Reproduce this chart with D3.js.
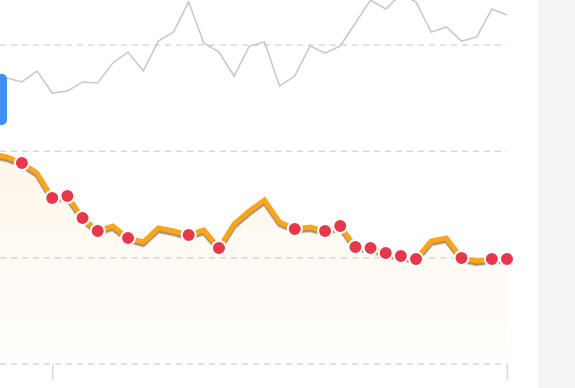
<!DOCTYPE html>
<html lang="en">
<head>
  <meta charset="UTF-8">
  <title>Trend chart</title>
  <style>
    body, html { margin: 0; padding: 0; background: #fff; }
    svg { display: block; }
  </style>
</head>
<body>
  <svg id="svg" width="575" height="388"></svg>

  <script src="https://d3js.org/d3.v7.min.js"></script>
  <script>
    // ----- DATA -----
    const days = d3.range(1, 36)

    // main (orange) series
    const mainValues = [197.5, 194.7, 189.0, 179.6, 156.1, 158.0, 137.3, 125.1, 129.8, 118.5,
                        114.7, 127.9, 125.1, 121.3, 126.0, 109.1, 131.7, 143.9, 154.2, 133.5,
                        127.0, 128.8, 125.1, 129.8, 110.0, 109.1, 104.4, 101.6, 98.7, 115.7,
                        118.5, 99.7, 96.9, 98.7, 98.7]

    // comparison (gray) series
    const compareValues = [272.7, 269.0, 265.2, 275.5, 254.8, 256.7, 265.2, 264.3, 283.1, 293.4,
                           275.5, 303.7, 312.2, 340.4, 301.9, 293.4, 270.8, 299.0, 302.8, 261.4,
                           270.8, 299.0, 292.5, 299.0, 320.7, 342.3, 333.8, 347.9, 340.4, 312.2,
                           316.9, 303.7, 307.5, 333.8, 328.2]

    // days that are marked with a dot
    const markedDays = [3, 5, 6, 7, 8, 10, 14, 16, 21, 23, 24, 25, 26, 27, 28, 29, 32, 34, 35]

    const yTicks = [0, 100, 200, 300]
    const xTicks = [5, 35]

    // ----- CONSTANTS -----
    const plot = {left: -8.4, right: 507, top: 45, bottom: 364}
    const orange = '#fba41b'
    const red = '#e5384a'

    const svg = d3.select('#svg')

    // side panel
    svg.append('rect')
      .attr('x', 538).attr('y', 0)
      .attr('width', 37).attr('height', 388)
      .attr('fill', '#f4f4f4')

    // ----- SCALES -----
    const xScale = d3.scalePoint()
      .domain(days)
      .range([plot.left, plot.right])

    const yScale = d3.scaleLinear()
      .domain([0, 300])
      .range([plot.bottom, plot.top])

    // ----- DEFS -----
    const defs = svg.append('defs')
    const grad = defs.append('linearGradient')
      .attr('id', 'areaGrad')
      .attr('x1', 0).attr('y1', 0).attr('x2', 0).attr('y2', 1)
    grad.append('stop').attr('offset', '0%').attr('stop-color', orange).attr('stop-opacity', 0.09)
    grad.append('stop').attr('offset', '100%').attr('stop-color', orange).attr('stop-opacity', 0.015)

    const shadow = defs.append('filter')
      .attr('id', 'lineShadow')
      .attr('x', '-5%').attr('y', '-20%').attr('width', '110%').attr('height', '140%')
    shadow.append('feDropShadow')
      .attr('dx', 0).attr('dy', 2.4)
      .attr('stdDeviation', 0.7)
      .attr('flood-color', '#8a6740')
      .attr('flood-opacity', 0.75)

    // ----- GRID -----
    const grid = svg.append('g')
    grid.selectAll('line')
      .data(yTicks)
      .enter()
      .append('line')
      .attr('x1', 0).attr('x2', plot.right)
      .attr('y1', d => yScale(d)).attr('y2', d => yScale(d))
      .attr('stroke', '#d9d9d9')
      .attr('stroke-width', 1.5)
      .attr('stroke-dasharray', '6,5')

    // ----- AREA -----
    const area = d3.area()
      .x((d, i) => xScale(days[i]))
      .y0(yScale(0))
      .y1(d => yScale(d))

    svg.append('path')
      .datum(mainValues)
      .attr('d', area)
      .attr('fill', 'url(#areaGrad)')

    // ----- LINES -----
    const line = d3.line()
      .x((d, i) => xScale(days[i]))
      .y(d => yScale(d))

    svg.append('path')
      .datum(compareValues)
      .attr('d', line)
      .attr('fill', 'none')
      .attr('stroke', '#c9c9c9')
      .attr('stroke-width', 1.6)

    svg.append('path')
      .datum(mainValues)
      .attr('d', line)
      .attr('fill', 'none')
      .attr('stroke', orange)
      .attr('stroke-width', 5)
      .attr('stroke-linejoin', 'miter')
      .attr('filter', 'url(#lineShadow)')

    // ----- AXIS -----
    const bottomAxis = d3.axisBottom(xScale)
      .tickValues(xTicks)
      .tickSize(16)
      .tickFormat('')

    const axisG = svg.append('g')
      .attr('transform', `translate(0, ${plot.bottom})`)
      .call(bottomAxis)
    axisG.select('.domain').remove()
    axisG.selectAll('.tick line')
      .attr('stroke', '#d9d9d9')
      .attr('stroke-width', 1.5)

    // ----- DOTS -----
    svg.append('g')
      .selectAll('circle')
      .data(markedDays)
      .enter()
      .append('circle')
      .attr('cx', d => xScale(d))
      .attr('cy', d => yScale(mainValues[d - 1]))
      .attr('r', 7)
      .attr('fill', red)
      .attr('stroke', '#fff')
      .attr('stroke-width', 2)

    // partly visible button at left edge
    svg.append('rect')
      .attr('x', -12).attr('y', 74)
      .attr('width', 19).attr('height', 51)
      .attr('rx', 5)
      .attr('fill', '#3b8ff7')
  </script>
</body>
</html>
